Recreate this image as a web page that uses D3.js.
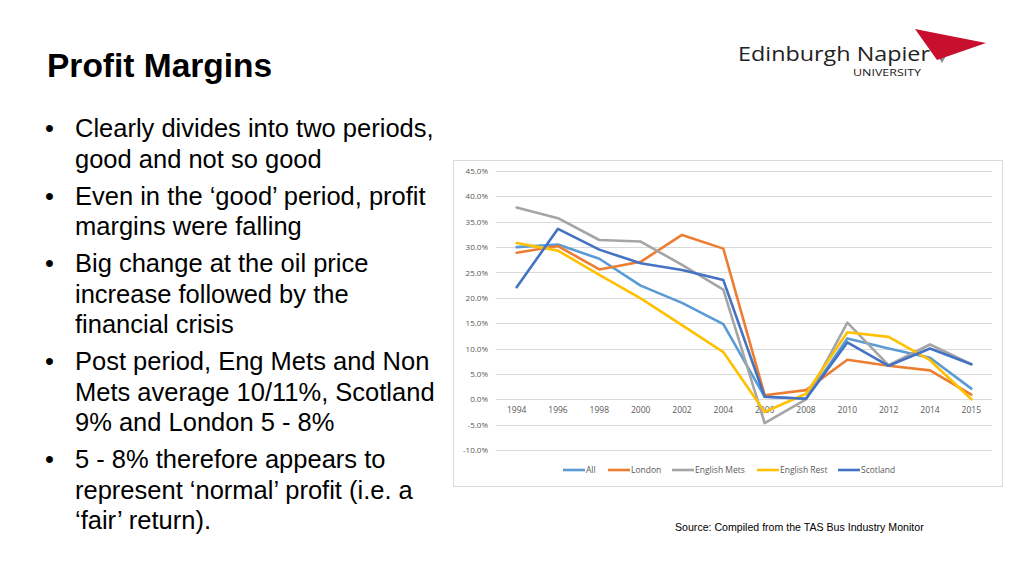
<!DOCTYPE html>
<html><head><meta charset="utf-8">
<script src="https://cdn.jsdelivr.net/npm/d3@7/dist/d3.min.js"></script>
<style>html,body{margin:0;padding:0;background:#fff;overflow:hidden}</style>
</head><body>
<svg id="c" width="1024" height="576"></svg>
<script>
const years = ["1994","1996","1998","2000","2002","2004","2006","2008","2010","2012","2014","2015"];
const seriesNames = ["All","London","English Mets","English Rest","Scotland"];
const seriesColors = ["#5B9BD5","#ED7D31","#A5A5A5","#FFC000","#4472C4"];
const allVals      = [30.0,30.5,27.7,22.4,19.0,14.8,0.5,0.1,12.0,10.0,8.2,2.1];
const londonVals   = [28.9,30.2,25.6,27.1,32.4,29.7,0.8,1.8,7.8,6.6,5.7,0.9];
const engMetsVals  = [37.8,35.7,31.4,31.1,26.5,21.6,-4.7,0.0,15.1,6.7,10.8,6.9];
const engRestVals  = [30.8,29.3,24.5,19.9,14.6,9.3,-2.5,1.1,13.2,12.3,7.7,0.0];
const scotlandVals = [22.1,33.6,29.5,26.8,25.5,23.5,0.5,0.1,11.2,6.6,10.0,6.9];
const yTicks = [-10,-5,0,5,10,15,20,25,30,35,40,45];
const bullets = [
  ["Clearly divides into two periods,","good and not so good"],
  ["Even in the \u2018good\u2019 period, profit","margins were falling"],
  ["Big change at the oil price","increase followed by the","financial crisis"],
  ["Post period, Eng Mets and Non","Mets average 10/11%, Scotland","9% and London 5 - 8%"],
  ["5 - 8% therefore appears to","represent \u2018normal\u2019 profit (i.e. a","\u2018fair\u2019 return)."]
];
const titleText = "Profit Margins";
const sourceText = "Source: Compiled from the TAS Bus Industry Monitor";

const seriesVals = [allVals, londonVals, engMetsVals, engRestVals, scotlandVals];
const svg = d3.select("#c");
const F = "'Liberation Sans', Arial, sans-serif";
const FO = "'Open Sans', 'Liberation Sans', sans-serif";

// Title
svg.append("text").attr("x",47).attr("y",77).attr("font-family",F).attr("font-weight","bold")
  .attr("font-size",33.5).attr("fill","#000").text(titleText);

// Bullets
let y = 137;
bullets.forEach((b)=>{
  svg.append("text").attr("x",45).attr("y",y).attr("font-family",F).attr("font-size",25.5).attr("fill","#000").text("\u2022");
  b.forEach((line,i)=>{
    svg.append("text").attr("x",75).attr("y",y).attr("font-family",F).attr("font-size",25.5).attr("fill","#000").text(line);
    y += (i < b.length-1) ? 30.5 : 37;
  });
});

// Logo
svg.append("text").attr("x",738).attr("y",61).attr("font-family",FO)
  .attr("font-size",20).attr("fill","#222").attr("textLength",192).attr("lengthAdjust","spacingAndGlyphs").text("Edinburgh Napier");
svg.append("text").attr("x",853).attr("y",76).attr("font-family",FO)
  .attr("font-size",8.5).attr("fill","#222").attr("textLength",68).attr("lengthAdjust","spacingAndGlyphs").text("UNIVERSITY");
svg.append("polygon").attr("points","937,55 942,63 946,56").attr("fill","#8a8a8a");
svg.append("polygon").attr("points","915,29 986,43 937,60").attr("fill","#c8102e");

// Chart frame
svg.append("rect").attr("x",453.5).attr("y",160.5).attr("width",549).attr("height",326)
  .attr("fill","#fff").attr("stroke","#d9d9d9");

const x = d3.scaleBand().domain(years).range([496,992]);
const yS = d3.scaleLinear().domain([-10,45]).range([450,171]);

// gridlines
svg.append("g").selectAll("line").data(yTicks).join("line")
  .attr("x1",496).attr("x2",992).attr("y1",d=>Math.round(yS(d))+0.5).attr("y2",d=>Math.round(yS(d))+0.5)
  .attr("stroke","#d9d9d9").attr("stroke-width",1);

// y axis labels
const yAx = d3.axisLeft(yS).tickValues(yTicks).tickSize(0).tickPadding(0).tickFormat(d=>d.toFixed(1)+"%");
const gy = svg.append("g").attr("transform","translate(488,0)").call(yAx);
gy.select(".domain").remove();
gy.selectAll("text").attr("font-family",FO).attr("font-size",8).attr("fill","#595959");

// x axis labels at 0
const xAx = d3.axisBottom(x).tickSize(0).tickPadding(8);
const gx = svg.append("g").attr("transform",`translate(0,${yS(0)})`).call(xAx);
gx.select(".domain").remove();
gx.selectAll("text").attr("font-family",FO).attr("font-size",8.5).attr("fill","#595959");

// lines
const line = d3.line().x((d,i)=>x(years[i])+x.bandwidth()/2).y(d=>yS(d));
seriesVals.forEach((vals,si)=>{
  svg.append("path").datum(vals).attr("d",line).attr("fill","none")
    .attr("stroke",seriesColors[si]).attr("stroke-width",2.6).attr("stroke-linejoin","round").attr("stroke-linecap","round");
});

// legend
const legX = [563,608,672,757,838];
seriesNames.forEach((n,i)=>{
  svg.append("line").attr("x1",legX[i]).attr("x2",legX[i]+22).attr("y1",470).attr("y2",470)
    .attr("stroke",seriesColors[i]).attr("stroke-width",2.6);
  svg.append("text").attr("x",legX[i]+23).attr("y",473).attr("font-family",FO)
    .attr("font-size",8.5).attr("fill","#595959").text(n);
});

// source
svg.append("text").attr("x",675).attr("y",530.5).attr("font-family",F).attr("font-size",10.6).attr("fill","#000").text(sourceText);
</script>
</body></html>
